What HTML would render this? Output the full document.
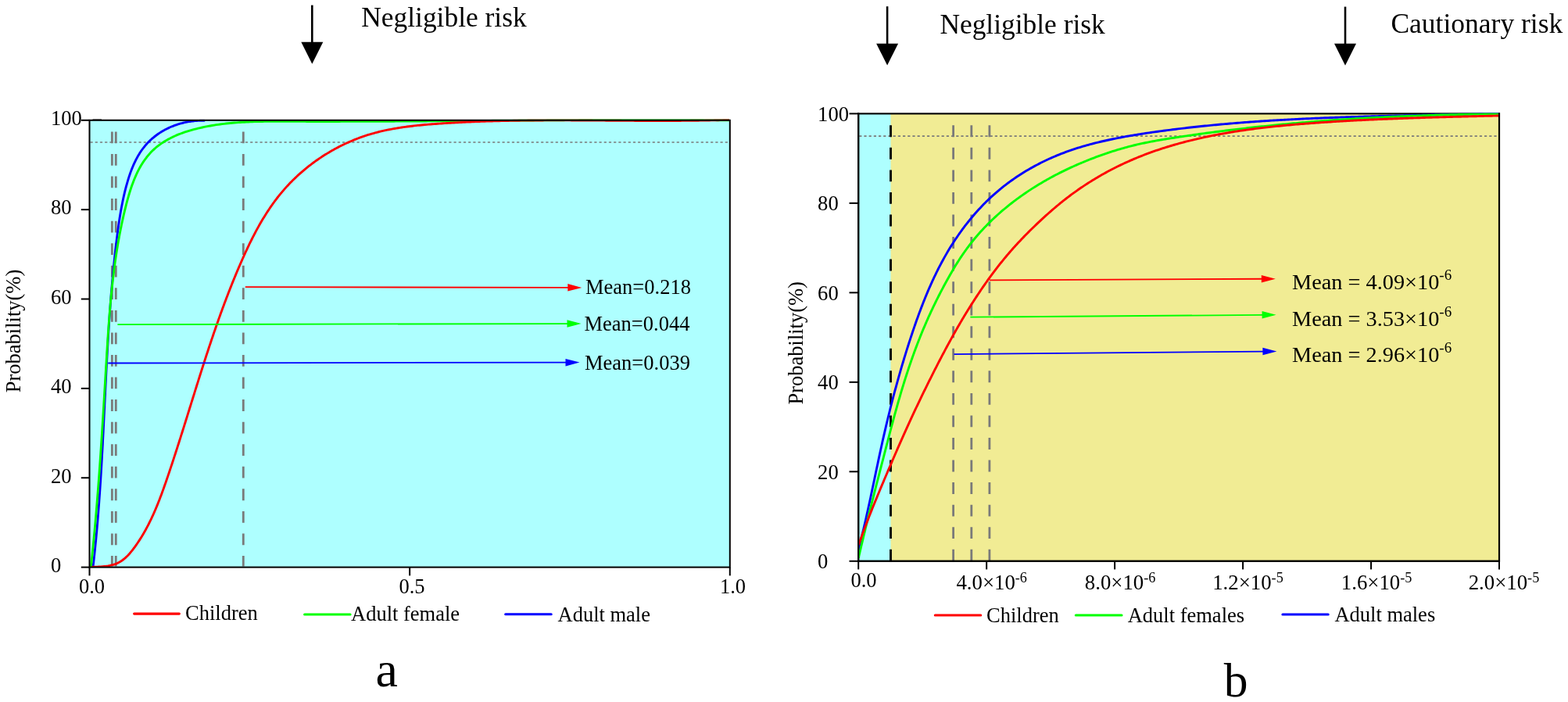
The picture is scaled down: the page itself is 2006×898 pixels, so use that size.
<!DOCTYPE html><html><head><meta charset="utf-8"><title>Risk probability curves</title>
<style>html,body{margin:0;padding:0;background:#fff;overflow:hidden;width:2006px;height:898px;}svg{display:block;} text{font-family:'Liberation Serif', 'Times New Roman', serif;fill:#000;}</style></head><body>
<svg width="2006" height="898" viewBox="0 0 2006 898">
<rect x="0" y="0" width="2006" height="898" fill="#fff"/>
<defs><clipPath id="cl"><rect x="114.5" y="152.5" width="819.3" height="573.0999999999999"/></clipPath><clipPath id="cr"><rect x="1098.2" y="144.3" width="819.8" height="573.5"/></clipPath></defs>
<rect x="114.5" y="153.8" width="819.3" height="571.8" fill="#aeffff"/>
<line x1="115.5" y1="182" x2="932.8" y2="182" stroke="#7a7a7a" stroke-width="1.6" stroke-dasharray="3.2 3"/>
<line x1="143.35" y1="168.4" x2="143.35" y2="724.5" stroke="#7a7a7a" stroke-width="2.8" stroke-dasharray="14.8 13.76" stroke-dashoffset="0"/>
<line x1="148.25" y1="168.4" x2="148.25" y2="724.5" stroke="#7a7a7a" stroke-width="2.8" stroke-dasharray="14.8 13.76" stroke-dashoffset="0"/>
<line x1="311.3" y1="168.4" x2="311.3" y2="724.5" stroke="#7a7a7a" stroke-width="2.8" stroke-dasharray="14.8 13.76" stroke-dashoffset="0"/>
<g clip-path="url(#cl)">
<path d="M118.00,725.20 L119.14,724.15 L119.29,722.89 L119.43,721.63 L119.58,720.37 L119.72,719.11 L119.86,717.85 L120.01,716.59 L120.15,715.33 L120.29,714.07 L120.43,712.81 L120.56,711.55 L120.70,710.29 L120.84,709.03 L120.97,707.77 L121.10,706.51 L121.24,705.25 L121.37,703.99 L121.50,702.73 L121.63,701.47 L121.76,700.21 L121.89,698.95 L122.01,697.69 L122.14,696.43 L122.27,695.17 L122.39,693.91 L122.51,692.64 L122.64,691.38 L122.76,690.12 L122.88,688.86 L123.00,687.60 L123.12,686.34 L123.24,685.08 L123.35,683.81 L123.47,682.55 L123.59,681.29 L123.70,680.03 L123.81,678.77 L123.93,677.50 L124.04,676.24 L124.15,674.98 L124.26,673.72 L124.37,672.45 L124.48,671.19 L124.59,669.93 L124.70,668.66 L124.80,667.40 L124.91,666.14 L125.01,664.88 L125.12,663.61 L125.22,662.35 L125.33,661.09 L125.43,659.82 L125.53,658.56 L125.63,657.29 L125.73,656.03 L125.83,654.77 L125.93,653.50 L126.03,652.24 L126.13,650.98 L126.22,649.71 L126.32,648.45 L126.41,647.18 L126.51,645.92 L126.60,644.66 L126.70,643.39 L126.79,642.13 L126.88,640.86 L126.97,639.60 L127.06,638.33 L127.15,637.07 L127.24,635.80 L127.33,634.54 L127.42,633.27 L127.51,632.01 L127.59,630.74 L127.68,629.48 L127.77,628.21 L127.85,626.95 L127.94,625.68 L128.02,624.42 L128.11,623.15 L128.19,621.89 L128.27,620.62 L128.36,619.36 L128.44,618.09 L128.52,616.83 L128.60,615.56 L128.68,614.29 L128.76,613.03 L128.84,611.76 L128.92,610.50 L129.00,609.23 L129.07,607.97 L129.15,606.70 L129.23,605.43 L129.30,604.17 L129.38,602.90 L129.46,601.64 L129.53,600.37 L129.61,599.10 L129.68,597.84 L129.76,596.57 L129.83,595.30 L129.90,594.04 L129.97,592.77 L130.05,591.50 L130.12,590.24 L130.19,588.97 L130.26,587.70 L130.33,586.44 L130.40,585.17 L130.47,583.90 L130.54,582.64 L130.61,581.37 L130.68,580.10 L130.75,578.84 L130.82,577.57 L130.89,576.30 L130.96,575.04 L131.03,573.77 L131.09,572.50 L131.16,571.24 L131.23,569.97 L131.29,568.70 L131.36,567.43 L131.43,566.17 L131.49,564.90 L131.56,563.63 L131.62,562.37 L131.69,561.10 L131.75,559.83 L131.82,558.56 L131.88,557.30 L131.95,556.03 L132.01,554.76 L132.08,553.50 L132.14,552.23 L132.20,550.96 L132.27,549.69 L132.33,548.43 L132.39,547.16 L132.46,545.89 L132.52,544.62 L132.58,543.36 L132.65,542.09 L132.71,540.82 L132.77,539.55 L132.83,538.29 L132.90,537.02 L132.96,535.75 L133.02,534.48 L133.08,533.22 L133.14,531.95 L133.21,530.68 L133.27,529.41 L133.33,528.15 L133.39,526.88 L133.45,525.61 L133.51,524.34 L133.58,523.08 L133.64,521.81 L133.70,520.54 L133.76,519.27 L133.82,518.00 L133.88,516.74 L133.94,515.47 L134.01,514.20 L134.07,512.93 L134.13,511.67 L134.19,510.40 L134.25,509.13 L134.31,507.86 L134.38,506.60 L134.44,505.33 L134.50,504.06 L134.56,502.79 L134.62,501.53 L134.69,500.26 L134.75,498.99 L134.81,497.72 L134.87,496.46 L134.94,495.19 L135.00,493.92 L135.06,492.65 L135.12,491.39 L135.19,490.12 L135.25,488.85 L135.31,487.58 L135.38,486.32 L135.44,485.05 L135.51,483.78 L135.57,482.51 L135.63,481.25 L135.70,479.98 L135.76,478.71 L135.83,477.45 L135.89,476.18 L135.96,474.91 L136.02,473.64 L136.09,472.38 L136.16,471.11 L136.22,469.84 L136.29,468.58 L136.36,467.31 L136.42,466.04 L136.49,464.77 L136.56,463.51 L136.63,462.24 L136.69,460.97 L136.76,459.71 L136.83,458.44 L136.90,457.17 L136.97,455.91 L137.04,454.64 L137.11,453.37 L137.18,452.11 L137.25,450.84 L137.32,449.57 L137.39,448.31 L137.47,447.04 L137.54,445.77 L137.61,444.51 L137.68,443.24 L137.76,441.97 L137.83,440.71 L137.90,439.44 L137.98,438.18 L138.05,436.91 L138.13,435.64 L138.21,434.38 L138.28,433.11 L138.36,431.84 L138.44,430.58 L138.51,429.31 L138.59,428.05 L138.67,426.78 L138.75,425.51 L138.83,424.25 L138.91,422.98 L138.99,421.72 L139.07,420.45 L139.15,419.19 L139.23,417.92 L139.32,416.66 L139.40,415.39 L139.48,414.12 L139.57,412.86 L139.65,411.59 L139.74,410.33 L139.82,409.06 L139.91,407.80 L139.99,406.53 L140.08,405.27 L140.17,404.00 L140.26,402.74 L140.35,401.47 L140.44,400.21 L140.53,398.95 L140.62,397.68 L140.71,396.42 L140.80,395.15 L140.90,393.89 L140.99,392.62 L141.08,391.36 L141.18,390.09 L141.28,388.83 L141.37,387.57 L141.47,386.30 L141.57,385.04 L141.66,383.77 L141.76,382.51 L141.86,381.25 L141.96,379.98 L142.06,378.72 L142.17,377.46 L142.27,376.19 L142.37,374.93 L142.48,373.67 L142.58,372.40 L142.69,371.14 L142.79,369.88 L142.90,368.61 L143.01,367.35 L143.12,366.09 L143.23,364.83 L143.34,363.56 L143.45,362.30 L143.56,361.04 L143.67,359.78 L143.78,358.51 L143.90,357.25 L144.01,355.99 L144.13,354.73 L144.25,353.47 L144.36,352.20 L144.48,350.94 L144.60,349.68 L144.72,348.42 L144.84,347.16 L144.97,345.90 L145.09,344.63 L145.21,343.37 L145.34,342.11 L145.46,340.85 L145.59,339.59 L145.72,338.33 L145.85,337.07 L145.97,335.81 L146.10,334.55 L146.24,333.29 L146.37,332.03 L146.50,330.77 L146.64,329.51 L146.77,328.25 L146.91,326.99 L147.04,325.73 L147.18,324.47 L147.32,323.21 L147.46,321.95 L147.60,320.69 L147.74,319.43 L147.89,318.17 L148.03,316.91 L148.18,315.65 L148.32,314.39 L148.47,313.13 L148.62,311.88 L148.77,310.62 L148.92,309.36 L149.07,308.10 L149.22,306.84 L149.38,305.58 L149.53,304.33 L149.69,303.07 L149.85,301.81 L150.01,300.55 L150.17,299.29 L150.33,298.04 L150.49,296.78 L150.66,295.52 L150.83,294.27 L151.00,293.01 L151.17,291.75 L151.35,290.50 L151.52,289.24 L151.70,287.99 L151.88,286.73 L152.07,285.47 L152.25,284.22 L152.44,282.96 L152.63,281.71 L152.83,280.46 L153.02,279.20 L153.22,277.95 L153.42,276.69 L153.63,275.44 L153.84,274.19 L154.05,272.93 L154.27,271.68 L154.48,270.43 L154.71,269.18 L154.93,267.93 L155.16,266.67 L155.39,265.42 L155.63,264.17 L155.87,262.92 L156.11,261.67 L156.36,260.42 L156.61,259.17 L156.87,257.92 L157.13,256.67 L157.39,255.43 L157.66,254.18 L157.93,252.93 L158.21,251.68 L158.49,250.44 L158.78,249.19 L159.07,247.94 L159.36,246.70 L159.66,245.45 L159.97,244.21 L160.28,242.96 L160.60,241.72 L160.92,240.48 L161.24,239.23 L161.57,237.99 L161.91,236.75 L162.25,235.51 L162.60,234.27 L162.96,233.04 L163.32,231.80 L163.69,230.57 L164.06,229.34 L164.44,228.11 L164.83,226.89 L165.23,225.67 L165.63,224.45 L166.05,223.24 L166.47,222.03 L166.90,220.82 L167.33,219.62 L167.78,218.43 L168.23,217.24 L168.70,216.05 L169.17,214.87 L169.65,213.69 L170.14,212.52 L170.64,211.36 L171.16,210.20 L171.68,209.05 L172.21,207.91 L172.75,206.77 L173.31,205.64 L173.87,204.52 L174.45,203.41 L175.03,202.30 L175.63,201.21 L176.24,200.12 L176.86,199.04 L177.50,197.97 L178.14,196.90 L178.80,195.85 L179.48,194.81 L180.16,193.78 L180.86,192.75 L181.57,191.74 L182.30,190.74 L183.04,189.75 L183.79,188.77 L184.56,187.80 L185.34,186.85 L186.13,185.90 L186.94,184.97 L187.77,184.05 L188.61,183.14 L189.46,182.24 L190.33,181.36 L191.21,180.49 L192.10,179.63 L193.01,178.79 L193.93,177.95 L194.87,177.13 L195.81,176.33 L196.77,175.53 L197.74,174.75 L198.73,173.99 L199.72,173.23 L200.73,172.49 L201.75,171.76 L202.78,171.05 L203.82,170.35 L204.87,169.66 L205.93,168.99 L207.00,168.33 L208.08,167.69 L209.18,167.06 L210.28,166.44 L211.39,165.84 L212.51,165.25 L213.64,164.68 L214.78,164.12 L215.93,163.58 L217.08,163.05 L218.25,162.54 L219.42,162.04 L220.60,161.55 L221.79,161.08 L222.99,160.63 L224.19,160.19 L225.40,159.77 L226.62,159.36 L227.85,158.97 L229.08,158.59 L230.31,158.23 L231.56,157.88 L232.81,157.55 L234.06,157.23 L235.32,156.93 L236.58,156.65 L237.85,156.38 L239.12,156.13 L240.40,155.89 L241.68,155.67 L242.96,155.47 L244.25,155.28 L245.54,155.10 L246.83,154.95 L248.13,154.81 L249.43,154.68 L250.72,154.57 L252.03,154.48 L253.33,154.40 L254.63,154.34 L255.93,154.29 L257.24,154.26 L258.54,154.25 L259.85,154.25 L261.15,154.27 L262.00,153.80" fill="none" stroke="#0000ff" stroke-width="2.9" stroke-linejoin="round"/>
<path d="M116.00,725.20 L116.63,722.60 L116.90,720.04 L117.18,717.48 L117.45,714.92 L117.72,712.36 L117.98,709.80 L118.24,707.24 L118.51,704.68 L118.76,702.11 L119.02,699.55 L119.27,696.98 L119.53,694.42 L119.77,691.85 L120.02,689.28 L120.27,686.71 L120.51,684.15 L120.75,681.58 L120.99,679.01 L121.22,676.44 L121.46,673.87 L121.69,671.29 L121.92,668.72 L122.14,666.15 L122.37,663.58 L122.59,661.00 L122.81,658.43 L123.03,655.85 L123.25,653.28 L123.47,650.70 L123.68,648.13 L123.89,645.55 L124.10,642.97 L124.31,640.40 L124.52,637.82 L124.73,635.24 L124.93,632.66 L125.13,630.08 L125.33,627.50 L125.53,624.92 L125.73,622.34 L125.92,619.76 L126.12,617.18 L126.31,614.60 L126.50,612.02 L126.69,609.44 L126.88,606.85 L127.07,604.27 L127.25,601.69 L127.44,599.11 L127.62,596.52 L127.80,593.94 L127.98,591.36 L128.16,588.77 L128.34,586.19 L128.52,583.61 L128.70,581.02 L128.87,578.44 L129.04,575.86 L129.22,573.27 L129.39,570.69 L129.56,568.10 L129.73,565.52 L129.90,562.93 L130.07,560.35 L130.24,557.76 L130.40,555.18 L130.57,552.59 L130.73,550.01 L130.90,547.43 L131.06,544.84 L131.23,542.26 L131.39,539.67 L131.55,537.09 L131.71,534.50 L131.87,531.92 L132.03,529.34 L132.19,526.75 L132.35,524.17 L132.51,521.58 L132.67,519.00 L132.82,516.42 L132.98,513.83 L133.14,511.25 L133.30,508.67 L133.45,506.09 L133.61,503.50 L133.76,500.92 L133.92,498.34 L134.08,495.76 L134.23,493.18 L134.39,490.60 L134.54,488.02 L134.70,485.44 L134.85,482.86 L135.01,480.28 L135.16,477.70 L135.32,475.12 L135.47,472.54 L135.63,469.96 L135.78,467.38 L135.94,464.81 L136.10,462.23 L136.25,459.65 L136.41,457.08 L136.56,454.50 L136.72,451.93 L136.88,449.35 L137.04,446.78 L137.20,444.21 L137.36,441.63 L137.53,439.06 L137.69,436.49 L137.86,433.92 L138.03,431.34 L138.20,428.77 L138.37,426.20 L138.55,423.63 L138.73,421.06 L138.91,418.49 L139.09,415.92 L139.28,413.35 L139.47,410.78 L139.66,408.22 L139.86,405.65 L140.06,403.08 L140.26,400.51 L140.47,397.95 L140.68,395.38 L140.90,392.81 L141.12,390.25 L141.35,387.68 L141.58,385.12 L141.82,382.55 L142.06,379.99 L142.30,377.42 L142.55,374.86 L142.81,372.29 L143.07,369.73 L143.34,367.17 L143.62,364.60 L143.90,362.04 L144.19,359.48 L144.48,356.91 L144.78,354.35 L145.09,351.79 L145.40,349.23 L145.72,346.67 L146.05,344.11 L146.39,341.54 L146.73,338.98 L147.08,336.42 L147.44,333.86 L147.81,331.30 L148.18,328.74 L148.57,326.18 L148.96,323.62 L149.36,321.06 L149.77,318.50 L150.19,315.94 L150.62,313.38 L151.06,310.83 L151.50,308.27 L151.96,305.71 L152.43,303.15 L152.90,300.59 L153.39,298.03 L153.89,295.48 L154.39,292.92 L154.91,290.36 L155.44,287.80 L155.98,285.24 L156.53,282.69 L157.09,280.13 L157.66,277.57 L158.25,275.01 L158.85,272.46 L159.45,269.90 L160.07,267.34 L160.71,264.79 L161.35,262.23 L162.01,259.68 L162.69,257.13 L163.38,254.58 L164.09,252.05 L164.83,249.52 L165.58,247.00 L166.36,244.50 L167.17,242.01 L167.99,239.53 L168.85,237.07 L169.74,234.63 L170.66,232.21 L171.61,229.81 L172.59,227.44 L173.61,225.08 L174.66,222.76 L175.75,220.46 L176.89,218.19 L178.06,215.95 L179.27,213.75 L180.53,211.57 L181.84,209.44 L183.19,207.34 L184.59,205.28 L186.04,203.26 L187.54,201.28 L189.09,199.34 L190.69,197.45 L192.36,195.61 L194.08,193.81 L195.85,192.06 L197.69,190.37 L199.59,188.72 L201.54,187.13 L203.55,185.59 L205.62,184.10 L207.73,182.67 L209.89,181.28 L212.10,179.94 L214.34,178.65 L216.63,177.42 L218.95,176.22 L221.30,175.08 L223.68,173.99 L226.09,172.94 L228.52,171.94 L230.97,170.99 L233.45,170.08 L235.94,169.21 L238.44,168.38 L240.95,167.59 L243.48,166.84 L246.01,166.12 L248.55,165.43 L251.09,164.78 L253.64,164.15 L256.18,163.55 L258.73,162.98 L261.28,162.43 L263.83,161.91 L266.39,161.42 L268.94,160.95 L271.50,160.51 L274.06,160.09 L276.62,159.69 L279.18,159.31 L281.74,158.96 L284.30,158.63 L286.87,158.32 L289.44,158.03 L292.00,157.75 L294.57,157.50 L297.14,157.26 L299.72,157.05 L302.29,156.84 L304.86,156.66 L307.44,156.49 L310.01,156.33 L312.59,156.19 L315.17,156.06 L317.75,155.95 L320.33,155.84 L322.91,155.75 L325.49,155.67 L328.07,155.60 L330.65,155.54 L333.23,155.49 L335.82,155.45 L338.40,155.41 L340.99,155.38 L343.57,155.36 L346.16,155.35 L348.74,155.34 L351.33,155.33 L353.92,155.33 L356.50,155.33 L359.09,155.34 L361.68,155.34 L364.26,155.35 L366.85,155.36 L369.44,155.37 L372.02,155.38 L374.61,155.39 L377.20,155.39 L379.78,155.40 L382.37,155.41 L384.96,155.41 L387.54,155.42 L390.13,155.42 L392.72,155.43 L395.30,155.43 L397.89,155.43 L400.48,155.44 L403.06,155.44 L405.65,155.44 L408.23,155.44 L410.82,155.44 L413.41,155.44 L415.99,155.44 L418.58,155.44 L421.16,155.44 L423.75,155.44 L426.34,155.44 L428.92,155.43 L431.51,155.43 L434.09,155.43 L436.68,155.42 L439.26,155.42 L441.85,155.41 L444.44,155.41 L447.02,155.40 L449.61,155.39 L452.19,155.39 L454.78,155.38 L457.36,155.37 L459.95,155.37 L462.53,155.36 L465.12,155.35 L467.70,155.34 L470.29,155.33 L472.87,155.32 L475.46,155.31 L478.04,155.30 L480.63,155.29 L483.21,155.28 L485.80,155.27 L488.38,155.26 L490.97,155.24 L493.55,155.23 L496.14,155.22 L498.72,155.21 L501.31,155.19 L503.89,155.18 L506.48,155.17 L509.06,155.15 L511.65,155.14 L514.23,155.12 L516.82,155.11 L519.40,155.09 L521.98,155.08 L524.57,155.06 L527.15,155.05 L529.74,155.03 L532.32,155.02 L534.91,155.00 L537.49,154.98 L540.08,154.97 L542.66,154.95 L545.24,154.93 L547.83,154.92 L550.41,154.90 L553.00,154.88 L555.58,154.86 L558.17,154.85 L560.75,154.83 L563.33,154.81 L565.92,154.79 L568.50,154.77 L571.09,154.75 L573.67,154.74 L576.26,154.72 L578.84,154.70 L581.42,154.68 L584.01,154.66 L586.59,154.64 L589.18,154.62 L591.76,154.60 L594.34,154.58 L596.93,154.56 L599.51,154.54 L602.10,154.52 L604.68,154.50 L607.26,154.48 L609.85,154.47 L612.43,154.45 L615.02,154.43 L617.60,154.41 L620.18,154.39 L622.77,154.37 L625.35,154.35 L627.94,154.33 L630.52,154.31 L633.10,154.29 L635.69,154.27 L638.27,154.25 L640.86,154.23 L643.44,154.21 L646.02,154.19 L648.61,154.17 L651.19,154.15 L653.78,154.13 L656.36,154.11 L658.95,154.10 L661.53,154.08 L664.11,154.06 L666.70,154.04 L669.28,154.02 L671.87,154.00 L674.45,153.98 L677.03,153.97 L679.62,153.95 L682.20,153.93 L684.79,153.91 L687.37,153.89 L689.95,153.88 L692.54,153.86 L695.12,153.84 L697.71,153.83 L700.29,153.81 L702.88,153.79 L705.46,153.78 L708.04,153.76 L710.63,153.74 L713.21,153.73 L715.80,153.71 L718.38,153.70 L720.97,153.68 L723.55,153.67 L726.13,153.65 L728.72,153.64 L731.30,153.62 L733.89,153.61 L736.47,153.60 L739.06,153.58 L741.64,153.57 L744.23,153.56 L746.81,153.55 L749.40,153.53 L751.98,153.52 L754.57,153.51 L757.15,153.50 L759.73,153.49 L762.32,153.48 L764.90,153.47 L767.49,153.46 L770.07,153.45 L772.66,153.44 L775.24,153.43 L777.83,153.42 L780.41,153.41 L783.00,153.41 L785.58,153.40 L788.17,153.39 L790.75,153.39 L793.34,153.38 L795.92,153.37 L798.51,153.37 L801.09,153.37 L803.68,153.36 L806.27,153.36 L808.85,153.35 L811.44,153.35 L814.02,153.35 L816.61,153.35 L819.19,153.34 L821.78,153.34 L824.36,153.34 L826.95,153.34 L829.54,153.34 L832.12,153.34 L834.71,153.35 L837.29,153.35 L839.88,153.35 L842.46,153.35 L845.05,153.36 L847.64,153.36 L850.22,153.36 L852.81,153.37 L855.39,153.37 L857.98,153.38 L860.57,153.39 L863.15,153.40 L865.74,153.40 L868.33,153.41 L870.91,153.42 L873.50,153.43 L876.09,153.44 L878.67,153.45 L881.26,153.46 L883.85,153.48 L886.43,153.49 L889.02,153.50 L891.61,153.52 L894.19,153.53 L896.78,153.55 L899.37,153.56 L901.96,153.58 L904.54,153.60 L907.13,153.61 L909.72,153.63 L912.30,153.65 L914.89,153.67 L917.48,153.69 L920.07,153.71 L922.65,153.74 L925.24,153.76 L927.83,153.78 L930.42,153.81 L933.00,153.80" fill="none" stroke="#00ff00" stroke-width="2.9" stroke-linejoin="round"/>
<path d="M117.30,725.50 L119.52,725.27 L121.81,725.19 L124.13,725.11 L126.47,725.00 L128.83,724.87 L131.20,724.70 L133.57,724.48 L135.93,724.21 L138.27,723.87 L140.58,723.45 L142.86,722.94 L145.09,722.33 L147.27,721.62 L149.39,720.79 L151.43,719.84 L153.40,718.76 L155.30,717.56 L157.14,716.26 L158.91,714.86 L160.63,713.37 L162.29,711.79 L163.90,710.15 L165.47,708.44 L166.99,706.68 L168.47,704.88 L169.92,703.04 L171.33,701.17 L172.72,699.28 L174.07,697.38 L175.41,695.46 L176.72,693.54 L178.00,691.60 L179.26,689.64 L180.49,687.68 L181.71,685.71 L182.90,683.72 L184.07,681.72 L185.21,679.71 L186.34,677.69 L187.45,675.66 L188.53,673.63 L189.60,671.58 L190.65,669.52 L191.68,667.45 L192.70,665.38 L193.69,663.30 L194.67,661.20 L195.64,659.11 L196.59,657.00 L197.52,654.88 L198.44,652.76 L199.35,650.64 L200.24,648.50 L201.12,646.36 L201.99,644.22 L202.85,642.07 L203.69,639.91 L204.53,637.75 L205.35,635.58 L206.17,633.41 L206.98,631.24 L207.78,629.06 L208.57,626.88 L209.35,624.70 L210.13,622.51 L210.90,620.32 L211.67,618.13 L212.43,615.94 L213.18,613.74 L213.94,611.54 L214.69,609.35 L215.43,607.15 L216.18,604.95 L216.92,602.75 L217.65,600.55 L218.39,598.35 L219.12,596.15 L219.85,593.94 L220.58,591.74 L221.31,589.54 L222.03,587.33 L222.75,585.13 L223.47,582.92 L224.19,580.72 L224.90,578.51 L225.62,576.30 L226.33,574.10 L227.04,571.89 L227.75,569.68 L228.45,567.47 L229.16,565.26 L229.86,563.05 L230.56,560.84 L231.27,558.64 L231.96,556.42 L232.66,554.21 L233.36,552.00 L234.06,549.79 L234.75,547.58 L235.45,545.37 L236.14,543.16 L236.83,540.95 L237.52,538.74 L238.22,536.52 L238.91,534.31 L239.60,532.10 L240.29,529.89 L240.98,527.68 L241.67,525.47 L242.36,523.25 L243.04,521.04 L243.73,518.83 L244.42,516.62 L245.11,514.41 L245.80,512.20 L246.49,509.99 L247.18,507.77 L247.87,505.56 L248.56,503.35 L249.25,501.14 L249.94,498.93 L250.63,496.72 L251.32,494.51 L252.02,492.30 L252.71,490.10 L253.41,487.89 L254.10,485.68 L254.80,483.47 L255.50,481.26 L256.20,479.06 L256.90,476.85 L257.60,474.65 L258.30,472.44 L259.01,470.24 L259.71,468.03 L260.42,465.83 L261.13,463.63 L261.84,461.42 L262.55,459.22 L263.27,457.02 L263.99,454.82 L264.70,452.62 L265.43,450.42 L266.15,448.22 L266.87,446.03 L267.60,443.83 L268.33,441.63 L269.06,439.44 L269.80,437.25 L270.53,435.05 L271.27,432.86 L272.02,430.67 L272.76,428.48 L273.51,426.29 L274.26,424.10 L275.02,421.91 L275.77,419.73 L276.53,417.54 L277.30,415.36 L278.06,413.17 L278.83,410.99 L279.61,408.81 L280.38,406.63 L281.16,404.45 L281.95,402.27 L282.73,400.10 L283.52,397.92 L284.32,395.75 L285.12,393.58 L285.92,391.41 L286.73,389.24 L287.54,387.07 L288.35,384.90 L289.17,382.73 L290.00,380.57 L290.83,378.41 L291.66,376.24 L292.49,374.08 L293.34,371.93 L294.18,369.77 L295.03,367.61 L295.89,365.46 L296.75,363.31 L297.61,361.16 L298.48,359.01 L299.36,356.86 L300.24,354.71 L301.13,352.57 L302.02,350.43 L302.91,348.28 L303.81,346.15 L304.72,344.01 L305.63,341.87 L306.55,339.74 L307.48,337.61 L308.41,335.48 L309.34,333.35 L310.28,331.22 L311.23,329.10 L312.19,326.98 L313.15,324.86 L314.12,322.75 L315.10,320.64 L316.08,318.53 L317.07,316.43 L318.07,314.33 L319.08,312.24 L320.10,310.15 L321.13,308.07 L322.17,305.99 L323.22,303.92 L324.28,301.85 L325.34,299.79 L326.42,297.74 L327.51,295.69 L328.61,293.66 L329.73,291.63 L330.85,289.60 L331.99,287.59 L333.14,285.58 L334.30,283.58 L335.47,281.59 L336.66,279.61 L337.86,277.64 L339.07,275.68 L340.30,273.73 L341.54,271.79 L342.80,269.86 L344.07,267.94 L345.36,266.03 L346.66,264.13 L347.98,262.24 L349.32,260.37 L350.67,258.51 L352.03,256.66 L353.42,254.82 L354.82,253.00 L356.23,251.19 L357.67,249.39 L359.12,247.60 L360.60,245.83 L362.09,244.08 L363.59,242.34 L365.12,240.61 L366.67,238.90 L368.23,237.20 L369.81,235.52 L371.41,233.85 L373.03,232.20 L374.66,230.57 L376.31,228.95 L377.98,227.34 L379.66,225.76 L381.36,224.19 L383.08,222.63 L384.81,221.09 L386.56,219.57 L388.32,218.06 L390.10,216.57 L391.89,215.10 L393.70,213.65 L395.52,212.21 L397.36,210.79 L399.21,209.39 L401.07,208.00 L402.95,206.64 L404.84,205.29 L406.75,203.96 L408.66,202.65 L410.59,201.35 L412.54,200.08 L414.49,198.82 L416.46,197.58 L418.44,196.36 L420.43,195.16 L422.43,193.98 L424.44,192.82 L426.46,191.68 L428.50,190.56 L430.54,189.46 L432.60,188.37 L434.66,187.31 L436.73,186.27 L438.82,185.25 L440.91,184.25 L443.01,183.27 L445.13,182.31 L447.25,181.37 L449.37,180.46 L451.51,179.56 L453.65,178.69 L455.81,177.84 L457.97,177.00 L460.13,176.20 L462.31,175.41 L464.49,174.64 L466.68,173.90 L468.87,173.18 L471.07,172.48 L473.28,171.81 L475.49,171.16 L477.70,170.53 L479.93,169.92 L482.16,169.33 L484.39,168.76 L486.63,168.21 L488.87,167.68 L491.12,167.17 L493.37,166.68 L495.63,166.20 L497.89,165.75 L500.15,165.31 L502.42,164.89 L504.70,164.48 L506.97,164.09 L509.25,163.71 L511.54,163.35 L513.82,163.00 L516.11,162.67 L518.41,162.35 L520.70,162.04 L523.00,161.74 L525.30,161.46 L527.60,161.19 L529.91,160.92 L532.21,160.67 L534.52,160.43 L536.83,160.20 L539.14,159.97 L541.46,159.76 L543.77,159.55 L546.09,159.35 L548.40,159.16 L550.72,158.97 L553.04,158.79 L555.36,158.62 L557.68,158.45 L559.99,158.28 L562.31,158.12 L564.63,157.97 L566.95,157.81 L569.27,157.66 L571.59,157.52 L573.90,157.37 L576.22,157.24 L578.54,157.10 L580.86,156.97 L583.18,156.84 L585.49,156.71 L587.81,156.59 L590.13,156.47 L592.44,156.36 L594.76,156.25 L597.08,156.14 L599.40,156.03 L601.71,155.93 L604.03,155.83 L606.35,155.74 L608.66,155.64 L610.98,155.55 L613.30,155.47 L615.61,155.38 L617.93,155.30 L620.24,155.22 L622.56,155.14 L624.88,155.07 L627.19,155.00 L629.51,154.93 L631.82,154.87 L634.14,154.80 L636.46,154.74 L638.77,154.69 L641.09,154.63 L643.40,154.58 L645.72,154.53 L648.03,154.48 L650.35,154.43 L652.67,154.39 L654.98,154.35 L657.30,154.31 L659.61,154.27 L661.93,154.23 L664.24,154.20 L666.56,154.17 L668.87,154.14 L671.19,154.11 L673.50,154.09 L675.82,154.06 L678.13,154.04 L680.45,154.02 L682.76,154.00 L685.08,153.98 L687.39,153.97 L689.71,153.95 L692.02,153.94 L694.34,153.93 L696.65,153.92 L698.97,153.91 L701.28,153.91 L703.59,153.90 L705.91,153.90 L708.22,153.90 L710.54,153.89 L712.85,153.89 L715.17,153.90 L717.48,153.90 L719.80,153.90 L722.11,153.90 L724.43,153.91 L726.74,153.92 L729.06,153.92 L731.37,153.93 L733.69,153.94 L736.00,153.95 L738.32,153.96 L740.63,153.97 L742.95,153.98 L745.26,153.99 L747.58,154.01 L749.89,154.02 L752.21,154.03 L754.52,154.05 L756.84,154.06 L759.15,154.08 L761.47,154.09 L763.78,154.11 L766.10,154.12 L768.41,154.14 L770.73,154.16 L773.04,154.17 L775.36,154.19 L777.67,154.20 L779.99,154.22 L782.30,154.24 L784.62,154.25 L786.94,154.27 L789.25,154.29 L791.57,154.30 L793.88,154.32 L796.20,154.33 L798.52,154.35 L800.83,154.36 L803.15,154.38 L805.46,154.39 L807.78,154.40 L810.10,154.42 L812.41,154.43 L814.73,154.44 L817.05,154.45 L819.36,154.46 L821.68,154.47 L824.00,154.48 L826.31,154.49 L828.63,154.50 L830.95,154.50 L833.26,154.51 L835.58,154.51 L837.90,154.52 L840.22,154.52 L842.53,154.52 L844.85,154.52 L847.17,154.52 L849.49,154.52 L851.81,154.52 L854.12,154.51 L856.44,154.51 L858.76,154.50 L861.08,154.49 L863.40,154.48 L865.72,154.47 L868.04,154.45 L870.35,154.44 L872.67,154.42 L874.99,154.41 L877.31,154.39 L879.63,154.36 L881.95,154.34 L884.27,154.32 L886.59,154.29 L888.91,154.26 L891.23,154.23 L893.55,154.20 L895.87,154.16 L898.19,154.13 L900.51,154.09 L902.83,154.05 L905.15,154.00 L907.48,153.96 L909.80,153.91 L912.12,153.86 L914.44,153.81 L916.76,153.76 L919.08,153.70 L921.41,153.64 L923.73,153.58 L926.05,153.51 L928.37,153.45 L930.70,153.38 L933.00,153.40" fill="none" stroke="#ff0000" stroke-width="2.9" stroke-linejoin="round"/>
</g>
<line x1="313.8" y1="367.2" x2="728.30" y2="367.87" stroke="#ff0000" stroke-width="1.8"/><polygon points="744.30,367.90 726.29,372.62 726.31,363.12" fill="#ff0000"/>
<line x1="150.4" y1="415.2" x2="727.50" y2="414.03" stroke="#00ff00" stroke-width="1.8"/><polygon points="743.50,414.00 725.51,418.79 725.49,409.29" fill="#00ff00"/>
<line x1="138.2" y1="464.5" x2="725.50" y2="463.62" stroke="#0000ff" stroke-width="1.8"/><polygon points="741.50,463.60 723.51,468.38 723.49,458.88" fill="#0000ff"/>
<rect x="114.5" y="153.8" width="819.3" height="571.8" fill="none" stroke="#000" stroke-width="2"/>
<line x1="118.5" y1="153.3" x2="130" y2="153.3" stroke="#000" stroke-width="1.6"/>
<line x1="103.8" y1="725.60" x2="114.5" y2="725.60" stroke="#000" stroke-width="2"/>
<line x1="103.8" y1="611.24" x2="114.5" y2="611.24" stroke="#000" stroke-width="2"/>
<line x1="103.8" y1="496.88" x2="114.5" y2="496.88" stroke="#000" stroke-width="2"/>
<line x1="103.8" y1="382.52" x2="114.5" y2="382.52" stroke="#000" stroke-width="2"/>
<line x1="103.8" y1="268.16" x2="114.5" y2="268.16" stroke="#000" stroke-width="2"/>
<line x1="103.8" y1="153.80" x2="114.5" y2="153.80" stroke="#000" stroke-width="2"/>
<line x1="114.50" y1="725.6" x2="114.50" y2="736.4" stroke="#000" stroke-width="2"/>
<line x1="524.15" y1="725.6" x2="524.15" y2="736.4" stroke="#000" stroke-width="2"/>
<line x1="933.80" y1="725.6" x2="933.80" y2="736.4" stroke="#000" stroke-width="2"/>
<text x="65" y="731.90" font-size="26.6">0</text>
<text x="65" y="617.54" font-size="26.6">20</text>
<text x="65" y="503.18" font-size="26.6">40</text>
<text x="65" y="388.82" font-size="26.6">60</text>
<text x="65" y="274.46" font-size="26.6">80</text>
<text x="65" y="160.10" font-size="26.6">100</text>
<text x="117.5" y="758.5" font-size="26.5" text-anchor="middle">0.0</text>
<text x="527" y="758.5" font-size="26.5" text-anchor="middle">0.5</text>
<text x="937.5" y="758.5" font-size="26.5" text-anchor="middle">1.0</text>
<text transform="translate(26,423.5) rotate(-90)" font-size="26.5" text-anchor="middle">Probability(%)</text>
<text x="749" y="376.4" font-size="26.5">Mean=0.218</text>
<text x="747.5" y="423" font-size="26.5">Mean=0.044</text>
<text x="748" y="472.8" font-size="26.5">Mean=0.039</text>
<line x1="171.6" y1="785.1" x2="229.4" y2="785.1" stroke="#ff0000" stroke-width="3.1" stroke-linecap="round"/>
<text x="237" y="793.2" font-size="26.5">Children</text>
<line x1="389.6" y1="786" x2="448.1" y2="786" stroke="#00ff00" stroke-width="3.1" stroke-linecap="round"/>
<text x="449" y="794.1" font-size="26.5">Adult female</text>
<line x1="646.7" y1="785.7" x2="705.2" y2="785.7" stroke="#0000ff" stroke-width="3.1" stroke-linecap="round"/>
<text x="713.5" y="794.5" font-size="26.5">Adult male</text>
<line x1="399.3" y1="6.6" x2="399.3" y2="54.8" stroke="#000" stroke-width="2.6"/><polygon points="385.3,53.8 413.3,53.8 399.3,81.8" fill="#000"/>
<text x="462.3" y="34" font-size="35.4">Negligible risk</text>
<text x="480.6" y="878.4" font-size="64">a</text>
<rect x="1098.2" y="145.4" width="819.8" height="572.4" fill="#f1ec94"/>
<rect x="1098.2" y="145.4" width="41.299999999999955" height="572.4" fill="#aeffff"/>
<line x1="1099.2" y1="174.1" x2="1917.0" y2="174.1" stroke="#7a7a7a" stroke-width="1.6" stroke-dasharray="3.2 3"/>
<line x1="1219.6" y1="160.3" x2="1219.6" y2="717" stroke="#7a7a7a" stroke-width="2.8" stroke-dasharray="14.9 13.65" stroke-dashoffset="0"/>
<line x1="1242.8" y1="160.3" x2="1242.8" y2="717" stroke="#7a7a7a" stroke-width="2.8" stroke-dasharray="14.9 13.65" stroke-dashoffset="0"/>
<line x1="1265.9" y1="160.3" x2="1265.9" y2="717" stroke="#7a7a7a" stroke-width="2.8" stroke-dasharray="14.9 13.65" stroke-dashoffset="0"/>
<line x1="1139.5" y1="160.3" x2="1139.5" y2="717" stroke="#000" stroke-width="2.9" stroke-dasharray="14.9 13.65" stroke-dashoffset="0"/>
<rect x="1098.2" y="145.4" width="819.8" height="572.4" fill="none" stroke="#000" stroke-width="2.1"/>
<g clip-path="url(#cr)">
<path d="M1098.50,704.00 L1098.62,701.66 L1099.20,699.40 L1099.77,697.15 L1100.34,694.89 L1100.91,692.64 L1101.47,690.38 L1102.03,688.12 L1102.58,685.86 L1103.13,683.60 L1103.67,681.33 L1104.21,679.07 L1104.74,676.81 L1105.27,674.54 L1105.80,672.28 L1106.32,670.01 L1106.84,667.74 L1107.36,665.47 L1107.87,663.20 L1108.39,660.93 L1108.89,658.66 L1109.40,656.39 L1109.90,654.12 L1110.40,651.85 L1110.90,649.58 L1111.39,647.30 L1111.89,645.03 L1112.38,642.76 L1112.87,640.48 L1113.35,638.21 L1113.84,635.93 L1114.32,633.66 L1114.81,631.38 L1115.29,629.11 L1115.77,626.83 L1116.25,624.55 L1116.73,622.28 L1117.21,620.00 L1117.69,617.72 L1118.17,615.45 L1118.64,613.17 L1119.12,610.89 L1119.60,608.62 L1120.08,606.34 L1120.55,604.07 L1121.03,601.79 L1121.51,599.51 L1121.99,597.24 L1122.47,594.96 L1122.96,592.69 L1123.44,590.41 L1123.92,588.14 L1124.41,585.87 L1124.89,583.59 L1125.38,581.32 L1125.87,579.05 L1126.37,576.78 L1126.86,574.51 L1127.36,572.23 L1127.86,569.96 L1128.36,567.69 L1128.86,565.43 L1129.37,563.16 L1129.88,560.89 L1130.39,558.62 L1130.91,556.36 L1131.43,554.09 L1131.95,551.83 L1132.47,549.57 L1133.00,547.30 L1133.53,545.04 L1134.07,542.78 L1134.61,540.52 L1135.15,538.26 L1135.69,536.01 L1136.24,533.75 L1136.79,531.49 L1137.35,529.24 L1137.90,526.98 L1138.46,524.73 L1139.03,522.47 L1139.60,520.22 L1140.17,517.97 L1140.74,515.72 L1141.32,513.47 L1141.91,511.22 L1142.49,508.98 L1143.08,506.73 L1143.67,504.48 L1144.27,502.24 L1144.87,499.99 L1145.47,497.75 L1146.08,495.51 L1146.69,493.27 L1147.31,491.03 L1147.93,488.79 L1148.55,486.55 L1149.18,484.31 L1149.81,482.07 L1150.44,479.84 L1151.08,477.60 L1151.73,475.37 L1152.37,473.14 L1153.02,470.90 L1153.68,468.67 L1154.34,466.44 L1155.00,464.22 L1155.67,461.99 L1156.34,459.76 L1157.01,457.53 L1157.69,455.31 L1158.38,453.09 L1159.06,450.86 L1159.76,448.64 L1160.45,446.42 L1161.15,444.20 L1161.86,441.98 L1162.57,439.76 L1163.28,437.55 L1164.00,435.33 L1164.72,433.12 L1165.45,430.90 L1166.18,428.69 L1166.92,426.48 L1167.66,424.27 L1168.41,422.06 L1169.16,419.85 L1169.92,417.65 L1170.68,415.44 L1171.45,413.24 L1172.22,411.04 L1173.00,408.84 L1173.79,406.65 L1174.58,404.46 L1175.38,402.27 L1176.19,400.08 L1177.00,397.90 L1177.82,395.71 L1178.65,393.53 L1179.49,391.36 L1180.33,389.19 L1181.18,387.02 L1182.04,384.85 L1182.91,382.69 L1183.78,380.53 L1184.67,378.38 L1185.56,376.23 L1186.46,374.08 L1187.37,371.94 L1188.29,369.80 L1189.22,367.67 L1190.16,365.54 L1191.11,363.41 L1192.06,361.29 L1193.03,359.18 L1194.01,357.07 L1195.00,354.97 L1196.00,352.87 L1197.01,350.77 L1198.03,348.68 L1199.06,346.60 L1200.10,344.52 L1201.15,342.45 L1202.22,340.39 L1203.30,338.33 L1204.39,336.28 L1205.49,334.23 L1206.60,332.19 L1207.73,330.16 L1208.86,328.13 L1210.02,326.11 L1211.18,324.10 L1212.36,322.09 L1213.55,320.09 L1214.75,318.10 L1215.97,316.11 L1217.20,314.14 L1218.44,312.17 L1219.70,310.21 L1220.97,308.26 L1222.25,306.31 L1223.55,304.38 L1224.86,302.45 L1226.18,300.53 L1227.52,298.63 L1228.87,296.73 L1230.23,294.84 L1231.61,292.96 L1233.00,291.09 L1234.41,289.24 L1235.82,287.39 L1237.25,285.55 L1238.70,283.73 L1240.16,281.92 L1241.63,280.11 L1243.11,278.32 L1244.61,276.55 L1246.12,274.78 L1247.65,273.03 L1249.18,271.28 L1250.74,269.56 L1252.30,267.84 L1253.88,266.14 L1255.47,264.45 L1257.08,262.77 L1258.70,261.11 L1260.33,259.46 L1261.98,257.83 L1263.64,256.21 L1265.31,254.60 L1266.99,253.01 L1268.69,251.44 L1270.41,249.88 L1272.14,248.33 L1273.88,246.81 L1275.63,245.29 L1277.40,243.80 L1279.18,242.31 L1280.97,240.85 L1282.78,239.40 L1284.60,237.97 L1286.43,236.55 L1288.27,235.15 L1290.13,233.76 L1292.00,232.39 L1293.88,231.03 L1295.77,229.70 L1297.67,228.37 L1299.58,227.07 L1301.51,225.77 L1303.44,224.50 L1305.39,223.24 L1307.35,222.00 L1309.31,220.77 L1311.29,219.56 L1313.28,218.36 L1315.28,217.18 L1317.28,216.02 L1319.30,214.87 L1321.33,213.74 L1323.36,212.62 L1325.41,211.52 L1327.46,210.44 L1329.52,209.37 L1331.59,208.32 L1333.67,207.29 L1335.76,206.27 L1337.86,205.26 L1339.96,204.28 L1342.07,203.30 L1344.19,202.35 L1346.31,201.41 L1348.45,200.49 L1350.59,199.58 L1352.73,198.69 L1354.89,197.81 L1357.05,196.96 L1359.21,196.11 L1361.39,195.29 L1363.56,194.48 L1365.75,193.68 L1367.94,192.90 L1370.13,192.14 L1372.33,191.39 L1374.54,190.66 L1376.75,189.94 L1378.97,189.24 L1381.19,188.55 L1383.41,187.87 L1385.64,187.21 L1387.88,186.56 L1390.12,185.92 L1392.36,185.30 L1394.60,184.69 L1396.85,184.09 L1399.11,183.51 L1401.36,182.93 L1403.62,182.37 L1405.89,181.82 L1408.15,181.27 L1410.42,180.74 L1412.69,180.22 L1414.97,179.71 L1417.24,179.21 L1419.52,178.72 L1421.80,178.24 L1424.08,177.76 L1426.36,177.30 L1428.65,176.84 L1430.94,176.40 L1433.22,175.96 L1435.51,175.53 L1437.80,175.10 L1440.10,174.68 L1442.39,174.28 L1444.68,173.87 L1446.98,173.48 L1449.28,173.09 L1451.58,172.70 L1453.87,172.33 L1456.17,171.96 L1458.48,171.59 L1460.78,171.23 L1463.08,170.88 L1465.38,170.53 L1467.69,170.19 L1469.99,169.85 L1472.30,169.51 L1474.60,169.18 L1476.91,168.85 L1479.21,168.53 L1481.52,168.21 L1483.83,167.89 L1486.13,167.58 L1488.44,167.27 L1490.75,166.97 L1493.06,166.66 L1495.37,166.36 L1497.68,166.07 L1499.98,165.78 L1502.29,165.49 L1504.60,165.20 L1506.91,164.92 L1509.22,164.64 L1511.53,164.36 L1513.84,164.09 L1516.15,163.82 L1518.46,163.55 L1520.78,163.29 L1523.09,163.03 L1525.40,162.77 L1527.71,162.52 L1530.02,162.27 L1532.34,162.02 L1534.65,161.77 L1536.96,161.53 L1539.27,161.29 L1541.59,161.06 L1543.90,160.82 L1546.22,160.59 L1548.53,160.36 L1550.84,160.14 L1553.16,159.92 L1555.47,159.70 L1557.79,159.48 L1560.10,159.27 L1562.42,159.06 L1564.73,158.85 L1567.05,158.64 L1569.37,158.44 L1571.68,158.24 L1574.00,158.04 L1576.32,157.85 L1578.63,157.65 L1580.95,157.46 L1583.27,157.27 L1585.58,157.09 L1587.90,156.91 L1590.22,156.73 L1592.54,156.55 L1594.86,156.37 L1597.18,156.20 L1599.49,156.03 L1601.81,155.86 L1604.13,155.70 L1606.45,155.53 L1608.77,155.37 L1611.09,155.21 L1613.41,155.05 L1615.73,154.90 L1618.05,154.75 L1620.37,154.60 L1622.69,154.45 L1625.01,154.30 L1627.33,154.16 L1629.65,154.02 L1631.97,153.88 L1634.29,153.74 L1636.62,153.60 L1638.94,153.47 L1641.26,153.34 L1643.58,153.21 L1645.90,153.08 L1648.22,152.95 L1650.55,152.83 L1652.87,152.71 L1655.19,152.59 L1657.51,152.47 L1659.84,152.35 L1662.16,152.24 L1664.48,152.12 L1666.81,152.01 L1669.13,151.90 L1671.45,151.79 L1673.78,151.69 L1676.10,151.58 L1678.42,151.48 L1680.75,151.37 L1683.07,151.27 L1685.39,151.18 L1687.72,151.08 L1690.04,150.98 L1692.37,150.89 L1694.69,150.80 L1697.02,150.70 L1699.34,150.61 L1701.67,150.52 L1703.99,150.44 L1706.32,150.35 L1708.64,150.27 L1710.97,150.18 L1713.29,150.10 L1715.62,150.02 L1717.94,149.94 L1720.27,149.86 L1722.59,149.78 L1724.92,149.71 L1727.24,149.63 L1729.57,149.56 L1731.90,149.49 L1734.22,149.42 L1736.55,149.34 L1738.87,149.28 L1741.20,149.21 L1743.52,149.14 L1745.85,149.07 L1748.18,149.01 L1750.50,148.94 L1752.83,148.88 L1755.16,148.81 L1757.48,148.75 L1759.81,148.69 L1762.14,148.63 L1764.46,148.57 L1766.79,148.51 L1769.12,148.45 L1771.44,148.40 L1773.77,148.34 L1776.09,148.28 L1778.42,148.23 L1780.75,148.17 L1783.08,148.12 L1785.40,148.06 L1787.73,148.01 L1790.06,147.96 L1792.38,147.90 L1794.71,147.85 L1797.04,147.80 L1799.36,147.75 L1801.69,147.70 L1804.02,147.65 L1806.34,147.60 L1808.67,147.55 L1811.00,147.50 L1813.32,147.45 L1815.65,147.40 L1817.98,147.36 L1820.30,147.31 L1822.63,147.26 L1824.96,147.21 L1827.28,147.17 L1829.61,147.12 L1831.94,147.07 L1834.26,147.03 L1836.59,146.98 L1838.92,146.93 L1841.24,146.89 L1843.57,146.84 L1845.90,146.79 L1848.22,146.75 L1850.55,146.70 L1852.88,146.65 L1855.20,146.60 L1857.53,146.56 L1859.86,146.51 L1862.18,146.46 L1864.51,146.42 L1866.84,146.37 L1869.16,146.32 L1871.49,146.27 L1873.81,146.22 L1876.14,146.17 L1878.47,146.13 L1880.79,146.08 L1883.12,146.03 L1885.44,145.98 L1887.77,145.93 L1890.09,145.87 L1892.42,145.82 L1894.74,145.77 L1897.07,145.72 L1899.39,145.67 L1901.72,145.61 L1904.05,145.56 L1906.37,145.50 L1908.70,145.45 L1911.02,145.39 L1913.34,145.34 L1915.67,145.28 L1918.00,145.70" fill="none" stroke="#0000ff" stroke-width="2.9" stroke-linejoin="round"/>
<path d="M1098.50,714.00 L1098.80,711.72 L1099.31,709.47 L1099.83,707.23 L1100.35,704.99 L1100.87,702.75 L1101.40,700.52 L1101.92,698.28 L1102.45,696.04 L1102.98,693.80 L1103.51,691.57 L1104.04,689.33 L1104.57,687.10 L1105.11,684.86 L1105.65,682.63 L1106.19,680.39 L1106.73,678.16 L1107.27,675.93 L1107.82,673.69 L1108.36,671.46 L1108.91,669.23 L1109.46,667.00 L1110.01,664.77 L1110.56,662.54 L1111.11,660.31 L1111.67,658.08 L1112.22,655.85 L1112.78,653.62 L1113.34,651.39 L1113.90,649.16 L1114.46,646.93 L1115.02,644.70 L1115.58,642.47 L1116.14,640.25 L1116.71,638.02 L1117.27,635.79 L1117.84,633.56 L1118.40,631.33 L1118.97,629.11 L1119.54,626.88 L1120.11,624.65 L1120.68,622.43 L1121.25,620.20 L1121.82,617.97 L1122.39,615.75 L1122.96,613.52 L1123.53,611.29 L1124.11,609.07 L1124.68,606.84 L1125.25,604.61 L1125.83,602.39 L1126.40,600.16 L1126.98,597.93 L1127.55,595.71 L1128.13,593.48 L1128.70,591.25 L1129.28,589.03 L1129.85,586.80 L1130.43,584.57 L1131.00,582.34 L1131.58,580.12 L1132.15,577.89 L1132.73,575.66 L1133.30,573.43 L1133.88,571.20 L1134.46,568.98 L1135.03,566.75 L1135.61,564.52 L1136.19,562.29 L1136.77,560.06 L1137.35,557.84 L1137.93,555.61 L1138.51,553.38 L1139.10,551.16 L1139.69,548.93 L1140.27,546.71 L1140.86,544.48 L1141.46,542.26 L1142.05,540.04 L1142.65,537.81 L1143.25,535.59 L1143.85,533.37 L1144.45,531.15 L1145.06,528.93 L1145.67,526.71 L1146.28,524.50 L1146.90,522.28 L1147.52,520.06 L1148.14,517.85 L1148.77,515.64 L1149.40,513.43 L1150.04,511.22 L1150.68,509.01 L1151.32,506.80 L1151.97,504.60 L1152.62,502.39 L1153.28,500.19 L1153.94,497.99 L1154.60,495.79 L1155.28,493.59 L1155.95,491.40 L1156.63,489.20 L1157.32,487.01 L1158.01,484.82 L1158.71,482.63 L1159.41,480.45 L1160.12,478.26 L1160.83,476.08 L1161.55,473.90 L1162.27,471.72 L1163.00,469.55 L1163.74,467.37 L1164.48,465.20 L1165.23,463.03 L1165.98,460.87 L1166.75,458.70 L1167.51,456.54 L1168.29,454.38 L1169.07,452.22 L1169.85,450.07 L1170.64,447.92 L1171.44,445.77 L1172.25,443.62 L1173.06,441.47 L1173.89,439.33 L1174.71,437.19 L1175.55,435.06 L1176.39,432.92 L1177.24,430.79 L1178.10,428.66 L1178.96,426.54 L1179.83,424.42 L1180.71,422.30 L1181.60,420.18 L1182.49,418.07 L1183.40,415.96 L1184.31,413.85 L1185.22,411.75 L1186.15,409.65 L1187.08,407.55 L1188.02,405.46 L1188.97,403.37 L1189.93,401.28 L1190.89,399.19 L1191.86,397.11 L1192.84,395.03 L1193.83,392.96 L1194.82,390.89 L1195.82,388.82 L1196.83,386.75 L1197.85,384.69 L1198.87,382.63 L1199.90,380.58 L1200.94,378.53 L1201.99,376.48 L1203.04,374.43 L1204.10,372.39 L1205.17,370.36 L1206.24,368.32 L1207.32,366.29 L1208.41,364.26 L1209.51,362.24 L1210.61,360.22 L1211.72,358.20 L1212.84,356.19 L1213.97,354.18 L1215.10,352.18 L1216.25,350.18 L1217.40,348.19 L1218.57,346.21 L1219.74,344.23 L1220.92,342.26 L1222.12,340.29 L1223.32,338.33 L1224.54,336.38 L1225.77,334.44 L1227.01,332.51 L1228.26,330.58 L1229.53,328.66 L1230.81,326.76 L1232.10,324.86 L1233.41,322.98 L1234.73,321.10 L1236.07,319.24 L1237.42,317.38 L1238.79,315.54 L1240.17,313.71 L1241.57,311.89 L1242.99,310.09 L1244.42,308.30 L1245.87,306.51 L1247.33,304.75 L1248.80,302.99 L1250.30,301.25 L1251.80,299.52 L1253.32,297.80 L1254.86,296.09 L1256.41,294.40 L1257.97,292.71 L1259.55,291.04 L1261.14,289.39 L1262.74,287.74 L1264.36,286.11 L1265.99,284.49 L1267.63,282.88 L1269.28,281.29 L1270.95,279.70 L1272.63,278.13 L1274.32,276.57 L1276.02,275.03 L1277.74,273.49 L1279.46,271.97 L1281.20,270.46 L1282.95,268.97 L1284.70,267.48 L1286.47,266.01 L1288.25,264.55 L1290.04,263.10 L1291.84,261.67 L1293.65,260.25 L1295.47,258.84 L1297.30,257.44 L1299.13,256.05 L1300.98,254.68 L1302.83,253.32 L1304.70,251.97 L1306.57,250.64 L1308.45,249.32 L1310.34,248.01 L1312.23,246.71 L1314.14,245.42 L1316.05,244.15 L1317.97,242.89 L1319.90,241.64 L1321.83,240.40 L1323.77,239.17 L1325.72,237.96 L1327.68,236.76 L1329.65,235.57 L1331.62,234.39 L1333.59,233.22 L1335.58,232.07 L1337.57,230.93 L1339.57,229.79 L1341.57,228.67 L1343.59,227.57 L1345.60,226.47 L1347.63,225.38 L1349.66,224.31 L1351.69,223.24 L1353.73,222.19 L1355.78,221.15 L1357.84,220.12 L1359.89,219.10 L1361.96,218.09 L1364.03,217.10 L1366.10,216.11 L1368.18,215.14 L1370.27,214.17 L1372.36,213.22 L1374.45,212.28 L1376.55,211.34 L1378.66,210.42 L1380.77,209.51 L1382.88,208.61 L1385.00,207.72 L1387.12,206.84 L1389.25,205.97 L1391.38,205.11 L1393.51,204.26 L1395.65,203.42 L1397.79,202.60 L1399.94,201.78 L1402.09,200.97 L1404.24,200.17 L1406.40,199.38 L1408.56,198.61 L1410.72,197.84 L1412.89,197.08 L1415.06,196.34 L1417.23,195.60 L1419.41,194.88 L1421.59,194.17 L1423.78,193.47 L1425.97,192.78 L1428.16,192.11 L1430.35,191.44 L1432.55,190.79 L1434.75,190.15 L1436.96,189.52 L1439.17,188.90 L1441.38,188.30 L1443.60,187.71 L1445.82,187.13 L1448.04,186.56 L1450.26,186.01 L1452.49,185.47 L1454.73,184.95 L1456.96,184.43 L1459.20,183.93 L1461.44,183.45 L1463.69,182.97 L1465.94,182.50 L1468.19,182.05 L1470.44,181.61 L1472.69,181.17 L1474.95,180.75 L1477.21,180.33 L1479.47,179.92 L1481.74,179.52 L1484.00,179.13 L1486.27,178.74 L1488.54,178.36 L1490.81,177.99 L1493.08,177.62 L1495.35,177.26 L1497.62,176.90 L1499.90,176.55 L1502.17,176.20 L1504.44,175.85 L1506.72,175.51 L1508.99,175.17 L1511.27,174.83 L1513.55,174.49 L1515.82,174.15 L1518.10,173.82 L1520.38,173.49 L1522.65,173.16 L1524.93,172.84 L1527.21,172.51 L1529.49,172.19 L1531.77,171.87 L1534.04,171.55 L1536.32,171.24 L1538.60,170.93 L1540.88,170.62 L1543.16,170.31 L1545.44,170.00 L1547.72,169.70 L1550.00,169.39 L1552.28,169.09 L1554.56,168.80 L1556.84,168.50 L1559.12,168.21 L1561.41,167.92 L1563.69,167.63 L1565.97,167.34 L1568.25,167.06 L1570.54,166.77 L1572.82,166.49 L1575.10,166.22 L1577.38,165.94 L1579.67,165.67 L1581.95,165.39 L1584.24,165.12 L1586.52,164.86 L1588.80,164.59 L1591.09,164.33 L1593.37,164.07 L1595.66,163.81 L1597.94,163.55 L1600.23,163.29 L1602.52,163.04 L1604.80,162.79 L1607.09,162.54 L1609.37,162.29 L1611.66,162.05 L1613.95,161.81 L1616.23,161.57 L1618.52,161.33 L1620.81,161.09 L1623.10,160.85 L1625.38,160.62 L1627.67,160.39 L1629.96,160.16 L1632.25,159.94 L1634.54,159.71 L1636.83,159.49 L1639.12,159.27 L1641.41,159.05 L1643.69,158.83 L1645.98,158.62 L1648.27,158.41 L1650.56,158.20 L1652.85,157.99 L1655.14,157.78 L1657.43,157.57 L1659.73,157.37 L1662.02,157.17 L1664.31,156.97 L1666.60,156.78 L1668.89,156.58 L1671.18,156.39 L1673.47,156.20 L1675.76,156.01 L1678.06,155.82 L1680.35,155.63 L1682.64,155.45 L1684.93,155.27 L1687.23,155.09 L1689.52,154.91 L1691.81,154.74 L1694.11,154.56 L1696.40,154.39 L1698.69,154.22 L1700.99,154.05 L1703.28,153.88 L1705.57,153.72 L1707.87,153.56 L1710.16,153.39 L1712.46,153.24 L1714.75,153.08 L1717.04,152.92 L1719.34,152.77 L1721.63,152.62 L1723.93,152.47 L1726.22,152.32 L1728.52,152.17 L1730.81,152.03 L1733.11,151.89 L1735.41,151.75 L1737.70,151.61 L1740.00,151.47 L1742.29,151.33 L1744.59,151.20 L1746.89,151.07 L1749.18,150.94 L1751.48,150.81 L1753.77,150.68 L1756.07,150.56 L1758.37,150.43 L1760.66,150.31 L1762.96,150.19 L1765.26,150.08 L1767.56,149.96 L1769.85,149.85 L1772.15,149.73 L1774.45,149.62 L1776.75,149.51 L1779.04,149.41 L1781.34,149.30 L1783.64,149.20 L1785.94,149.09 L1788.23,148.99 L1790.53,148.89 L1792.83,148.80 L1795.13,148.70 L1797.43,148.61 L1799.72,148.51 L1802.02,148.42 L1804.32,148.33 L1806.62,148.25 L1808.92,148.16 L1811.22,148.08 L1813.52,148.00 L1815.82,147.92 L1818.11,147.84 L1820.41,147.76 L1822.71,147.68 L1825.01,147.61 L1827.31,147.54 L1829.61,147.47 L1831.91,147.40 L1834.21,147.33 L1836.51,147.26 L1838.81,147.20 L1841.11,147.13 L1843.41,147.07 L1845.70,147.01 L1848.00,146.96 L1850.30,146.90 L1852.60,146.84 L1854.90,146.79 L1857.20,146.74 L1859.50,146.69 L1861.80,146.64 L1864.10,146.59 L1866.40,146.55 L1868.70,146.50 L1871.00,146.46 L1873.30,146.42 L1875.60,146.38 L1877.90,146.34 L1880.20,146.31 L1882.50,146.27 L1884.80,146.24 L1887.10,146.20 L1889.40,146.17 L1891.70,146.15 L1894.00,146.12 L1896.30,146.09 L1898.60,146.07 L1900.90,146.04 L1903.20,146.02 L1905.50,146.00 L1907.80,145.98 L1910.10,145.97 L1912.40,145.95 L1914.70,145.94 L1917.00,145.90" fill="none" stroke="#00ff00" stroke-width="2.9" stroke-linejoin="round"/>
<path d="M1098.50,697.00 L1099.14,694.93 L1099.87,692.86 L1100.61,690.80 L1101.36,688.74 L1102.10,686.68 L1102.86,684.62 L1103.61,682.56 L1104.37,680.50 L1105.14,678.45 L1105.91,676.39 L1106.69,674.34 L1107.46,672.29 L1108.25,670.24 L1109.03,668.19 L1109.82,666.14 L1110.62,664.10 L1111.41,662.05 L1112.21,660.01 L1113.02,657.97 L1113.83,655.93 L1114.64,653.89 L1115.45,651.85 L1116.27,649.81 L1117.09,647.77 L1117.91,645.74 L1118.74,643.70 L1119.57,641.67 L1120.40,639.64 L1121.23,637.61 L1122.07,635.58 L1122.91,633.55 L1123.75,631.52 L1124.59,629.49 L1125.43,627.46 L1126.28,625.43 L1127.13,623.41 L1127.98,621.38 L1128.83,619.36 L1129.69,617.33 L1130.55,615.31 L1131.40,613.29 L1132.26,611.26 L1133.12,609.24 L1133.98,607.22 L1134.85,605.20 L1135.71,603.18 L1136.57,601.16 L1137.44,599.14 L1138.31,597.12 L1139.17,595.10 L1140.04,593.08 L1140.91,591.07 L1141.78,589.05 L1142.65,587.03 L1143.53,585.02 L1144.40,583.00 L1145.27,580.99 L1146.15,578.97 L1147.03,576.96 L1147.91,574.94 L1148.79,572.93 L1149.67,570.92 L1150.55,568.91 L1151.44,566.90 L1152.33,564.89 L1153.22,562.89 L1154.11,560.88 L1155.00,558.87 L1155.89,556.87 L1156.79,554.87 L1157.69,552.86 L1158.59,550.86 L1159.49,548.86 L1160.40,546.86 L1161.31,544.87 L1162.22,542.87 L1163.13,540.88 L1164.05,538.88 L1164.96,536.89 L1165.88,534.90 L1166.81,532.91 L1167.73,530.92 L1168.66,528.93 L1169.59,526.95 L1170.52,524.96 L1171.46,522.98 L1172.39,521.00 L1173.33,519.01 L1174.28,517.03 L1175.22,515.06 L1176.17,513.08 L1177.12,511.10 L1178.07,509.12 L1179.02,507.15 L1179.98,505.18 L1180.94,503.20 L1181.90,501.23 L1182.87,499.26 L1183.83,497.29 L1184.80,495.32 L1185.77,493.35 L1186.74,491.39 L1187.72,489.42 L1188.70,487.46 L1189.68,485.49 L1190.66,483.53 L1191.65,481.57 L1192.63,479.60 L1193.62,477.64 L1194.62,475.68 L1195.61,473.72 L1196.61,471.76 L1197.61,469.81 L1198.61,467.85 L1199.62,465.90 L1200.62,463.94 L1201.63,461.99 L1202.65,460.04 L1203.67,458.09 L1204.69,456.14 L1205.71,454.19 L1206.74,452.25 L1207.77,450.31 L1208.80,448.36 L1209.84,446.42 L1210.88,444.49 L1211.92,442.55 L1212.97,440.62 L1214.02,438.69 L1215.07,436.76 L1216.13,434.83 L1217.19,432.90 L1218.26,430.98 L1219.33,429.06 L1220.41,427.14 L1221.48,425.23 L1222.57,423.31 L1223.66,421.40 L1224.75,419.50 L1225.84,417.59 L1226.94,415.69 L1228.05,413.79 L1229.16,411.89 L1230.27,410.00 L1231.39,408.11 L1232.52,406.22 L1233.65,404.34 L1234.78,402.46 L1235.92,400.58 L1237.07,398.71 L1238.22,396.84 L1239.37,394.97 L1240.53,393.11 L1241.70,391.25 L1242.87,389.39 L1244.04,387.54 L1245.23,385.69 L1246.41,383.85 L1247.61,382.00 L1248.81,380.17 L1250.01,378.34 L1251.22,376.51 L1252.44,374.68 L1253.66,372.86 L1254.89,371.05 L1256.13,369.24 L1257.37,367.43 L1258.62,365.63 L1259.87,363.83 L1261.13,362.04 L1262.40,360.25 L1263.67,358.46 L1264.95,356.68 L1266.24,354.91 L1267.53,353.14 L1268.83,351.38 L1270.14,349.62 L1271.46,347.86 L1272.78,346.12 L1274.11,344.37 L1275.45,342.64 L1276.79,340.91 L1278.14,339.18 L1279.50,337.46 L1280.87,335.75 L1282.24,334.04 L1283.63,332.34 L1285.02,330.65 L1286.42,328.96 L1287.83,327.28 L1289.24,325.60 L1290.66,323.94 L1292.10,322.27 L1293.54,320.62 L1294.99,318.97 L1296.45,317.33 L1297.91,315.70 L1299.39,314.08 L1300.87,312.46 L1302.36,310.85 L1303.86,309.24 L1305.37,307.64 L1306.88,306.05 L1308.40,304.46 L1309.93,302.88 L1311.46,301.31 L1313.00,299.74 L1314.55,298.18 L1316.10,296.62 L1317.66,295.07 L1319.23,293.53 L1320.80,291.99 L1322.38,290.46 L1323.96,288.93 L1325.55,287.41 L1327.14,285.89 L1328.74,284.38 L1330.34,282.88 L1331.95,281.38 L1333.57,279.89 L1335.19,278.40 L1336.81,276.92 L1338.44,275.44 L1340.08,273.98 L1341.72,272.52 L1343.37,271.06 L1345.03,269.62 L1346.69,268.18 L1348.36,266.75 L1350.03,265.32 L1351.71,263.91 L1353.40,262.50 L1355.10,261.11 L1356.80,259.72 L1358.51,258.34 L1360.22,256.97 L1361.94,255.61 L1363.67,254.26 L1365.41,252.91 L1367.15,251.58 L1368.90,250.26 L1370.66,248.95 L1372.43,247.65 L1374.21,246.36 L1375.99,245.08 L1377.78,243.81 L1379.57,242.55 L1381.38,241.30 L1383.19,240.06 L1385.00,238.83 L1386.83,237.61 L1388.66,236.41 L1390.50,235.21 L1392.34,234.03 L1394.20,232.85 L1396.06,231.69 L1397.92,230.53 L1399.79,229.39 L1401.67,228.26 L1403.56,227.14 L1405.45,226.02 L1407.35,224.92 L1409.26,223.84 L1411.17,222.76 L1413.08,221.69 L1415.01,220.63 L1416.94,219.59 L1418.87,218.55 L1420.82,217.53 L1422.76,216.52 L1424.72,215.51 L1426.68,214.52 L1428.64,213.54 L1430.61,212.57 L1432.59,211.61 L1434.57,210.66 L1436.55,209.72 L1438.54,208.80 L1440.54,207.88 L1442.54,206.98 L1444.55,206.08 L1446.56,205.20 L1448.57,204.32 L1450.60,203.46 L1452.62,202.61 L1454.65,201.77 L1456.68,200.94 L1458.72,200.12 L1460.76,199.31 L1462.81,198.51 L1464.86,197.72 L1466.91,196.94 L1468.97,196.17 L1471.04,195.42 L1473.10,194.67 L1475.17,193.94 L1477.24,193.21 L1479.32,192.49 L1481.40,191.79 L1483.48,191.09 L1485.57,190.41 L1487.66,189.73 L1489.75,189.06 L1491.84,188.40 L1493.94,187.75 L1496.04,187.12 L1498.14,186.49 L1500.25,185.86 L1502.35,185.25 L1504.46,184.65 L1506.58,184.05 L1508.69,183.47 L1510.81,182.89 L1512.92,182.32 L1515.04,181.76 L1517.17,181.21 L1519.29,180.66 L1521.42,180.13 L1523.54,179.60 L1525.67,179.08 L1527.80,178.57 L1529.94,178.06 L1532.07,177.56 L1534.21,177.08 L1536.35,176.59 L1538.49,176.12 L1540.63,175.65 L1542.77,175.19 L1544.92,174.74 L1547.07,174.29 L1549.21,173.86 L1551.36,173.43 L1553.52,173.00 L1555.67,172.58 L1557.82,172.17 L1559.98,171.77 L1562.14,171.37 L1564.29,170.98 L1566.45,170.60 L1568.62,170.22 L1570.78,169.85 L1572.94,169.48 L1575.11,169.12 L1577.27,168.77 L1579.44,168.42 L1581.61,168.08 L1583.78,167.74 L1585.95,167.41 L1588.12,167.09 L1590.30,166.77 L1592.47,166.45 L1594.64,166.14 L1596.82,165.84 L1599.00,165.54 L1601.18,165.25 L1603.35,164.96 L1605.53,164.68 L1607.72,164.40 L1609.90,164.13 L1612.08,163.86 L1614.26,163.60 L1616.45,163.34 L1618.63,163.08 L1620.81,162.83 L1623.00,162.59 L1625.19,162.34 L1627.37,162.11 L1629.56,161.87 L1631.75,161.64 L1633.94,161.42 L1636.13,161.20 L1638.32,160.98 L1640.51,160.76 L1642.70,160.55 L1644.89,160.35 L1647.08,160.14 L1649.27,159.94 L1651.46,159.74 L1653.66,159.55 L1655.85,159.36 L1658.04,159.17 L1660.23,158.99 L1662.43,158.80 L1664.62,158.63 L1666.81,158.45 L1669.01,158.28 L1671.20,158.10 L1673.39,157.94 L1675.59,157.77 L1677.78,157.60 L1679.97,157.44 L1682.17,157.28 L1684.36,157.13 L1686.55,156.97 L1688.75,156.82 L1690.94,156.66 L1693.13,156.52 L1695.33,156.37 L1697.52,156.22 L1699.71,156.08 L1701.91,155.94 L1704.10,155.80 L1706.29,155.66 L1708.48,155.52 L1710.68,155.39 L1712.87,155.26 L1715.06,155.13 L1717.25,155.00 L1719.45,154.87 L1721.64,154.74 L1723.83,154.62 L1726.02,154.50 L1728.22,154.38 L1730.41,154.26 L1732.60,154.14 L1734.79,154.03 L1736.99,153.91 L1739.18,153.80 L1741.37,153.69 L1743.56,153.58 L1745.76,153.47 L1747.95,153.37 L1750.14,153.26 L1752.33,153.16 L1754.53,153.06 L1756.72,152.95 L1758.91,152.86 L1761.10,152.76 L1763.30,152.66 L1765.49,152.57 L1767.68,152.47 L1769.87,152.38 L1772.07,152.29 L1774.26,152.20 L1776.45,152.11 L1778.64,152.02 L1780.84,151.93 L1783.03,151.85 L1785.22,151.76 L1787.42,151.68 L1789.61,151.60 L1791.80,151.52 L1794.00,151.44 L1796.19,151.36 L1798.38,151.28 L1800.58,151.20 L1802.77,151.13 L1804.96,151.05 L1807.16,150.98 L1809.35,150.90 L1811.54,150.83 L1813.74,150.76 L1815.93,150.69 L1818.13,150.62 L1820.32,150.55 L1822.52,150.48 L1824.71,150.41 L1826.90,150.35 L1829.10,150.28 L1831.29,150.22 L1833.49,150.15 L1835.68,150.09 L1837.88,150.02 L1840.08,149.96 L1842.27,149.90 L1844.47,149.84 L1846.66,149.77 L1848.86,149.71 L1851.05,149.65 L1853.25,149.59 L1855.45,149.53 L1857.64,149.47 L1859.84,149.42 L1862.04,149.36 L1864.24,149.30 L1866.43,149.24 L1868.63,149.19 L1870.83,149.13 L1873.03,149.07 L1875.22,149.02 L1877.42,148.96 L1879.62,148.90 L1881.82,148.85 L1884.02,148.79 L1886.22,148.74 L1888.42,148.68 L1890.61,148.63 L1892.81,148.57 L1895.01,148.52 L1897.21,148.46 L1899.41,148.41 L1901.62,148.36 L1903.82,148.30 L1906.02,148.25 L1908.22,148.19 L1910.42,148.14 L1912.62,148.08 L1914.82,148.03 L1917.00,148.00" fill="none" stroke="#ff0000" stroke-width="2.9" stroke-linejoin="round"/>
</g>
<line x1="1098.2" y1="144.35" x2="1098.2" y2="718.8499999999999" stroke="#000" stroke-width="2.1"/>
<line x1="1918.0" y1="144.35" x2="1918.0" y2="718.8499999999999" stroke="#000" stroke-width="2.1"/>
<line x1="1098.2" y1="717.8" x2="1918.0" y2="717.8" stroke="#000" stroke-width="2.1"/>
<line x1="1265.9" y1="358.4" x2="1615.80" y2="356.77" stroke="#ff0000" stroke-width="1.8"/><polygon points="1631.80,356.70 1613.82,361.53 1613.78,352.03" fill="#ff0000"/>
<line x1="1241.4" y1="405.7" x2="1616.60" y2="402.82" stroke="#00ff00" stroke-width="1.8"/><polygon points="1632.60,402.70 1614.64,407.59 1614.56,398.09" fill="#00ff00"/>
<line x1="1220.5" y1="453.1" x2="1617.40" y2="449.54" stroke="#0000ff" stroke-width="1.8"/><polygon points="1633.40,449.40 1615.44,454.31 1615.36,444.81" fill="#0000ff"/>
<line x1="1086.5" y1="717.80" x2="1098.2" y2="717.80" stroke="#000" stroke-width="2"/>
<line x1="1086.5" y1="603.32" x2="1098.2" y2="603.32" stroke="#000" stroke-width="2"/>
<line x1="1086.5" y1="488.84" x2="1098.2" y2="488.84" stroke="#000" stroke-width="2"/>
<line x1="1086.5" y1="374.36" x2="1098.2" y2="374.36" stroke="#000" stroke-width="2"/>
<line x1="1086.5" y1="259.88" x2="1098.2" y2="259.88" stroke="#000" stroke-width="2"/>
<line x1="1086.5" y1="145.40" x2="1098.2" y2="145.40" stroke="#000" stroke-width="2"/>
<line x1="1098.20" y1="717.8" x2="1098.20" y2="728.4" stroke="#000" stroke-width="2"/>
<line x1="1262.16" y1="717.8" x2="1262.16" y2="728.4" stroke="#000" stroke-width="2"/>
<line x1="1426.12" y1="717.8" x2="1426.12" y2="728.4" stroke="#000" stroke-width="2"/>
<line x1="1590.08" y1="717.8" x2="1590.08" y2="728.4" stroke="#000" stroke-width="2"/>
<line x1="1754.04" y1="717.8" x2="1754.04" y2="728.4" stroke="#000" stroke-width="2"/>
<line x1="1918.00" y1="717.8" x2="1918.00" y2="728.4" stroke="#000" stroke-width="2"/>
<text x="1046.1" y="727.40" font-size="26.6">0</text>
<text x="1046.1" y="612.92" font-size="26.6">20</text>
<text x="1046.1" y="498.44" font-size="26.6">40</text>
<text x="1046.1" y="383.96" font-size="26.6">60</text>
<text x="1046.1" y="269.48" font-size="26.6">80</text>
<text x="1046.1" y="155.00" font-size="26.6">100</text>
<text x="1105" y="750.7" font-size="26.5" text-anchor="middle">0.0</text>
<text x="1223.4" y="754.4" font-size="26.8">4.0×10<tspan font-size="18.2" dy="-9.5">-6</tspan></text>
<text x="1387.8" y="754.4" font-size="26.8">8.0×10<tspan font-size="18.2" dy="-9.5">-6</tspan></text>
<text x="1551.2" y="754.4" font-size="26.8">1.2×10<tspan font-size="18.2" dy="-9.5">-5</tspan></text>
<text x="1715.8" y="754.4" font-size="26.8">1.6×10<tspan font-size="18.2" dy="-9.5">-5</tspan></text>
<text x="1878.7" y="754.4" font-size="26.8">2.0×10<tspan font-size="18.2" dy="-9.5">-5</tspan></text>
<text transform="translate(1027,438.8) rotate(-90)" font-size="26.5" text-anchor="middle">Probability(%)</text>
<text x="1653" y="370.1" font-size="28.3">Mean = 4.09×10<tspan font-size="19" dy="-12">-6</tspan></text>
<text x="1653" y="417.2" font-size="28.3">Mean = 3.53×10<tspan font-size="19" dy="-12">-6</tspan></text>
<text x="1653" y="462.8" font-size="28.3">Mean = 2.96×10<tspan font-size="19" dy="-12">-6</tspan></text>
<line x1="1196.3" y1="787" x2="1254.7" y2="787" stroke="#ff0000" stroke-width="3.1" stroke-linecap="round"/>
<text x="1262" y="795.5" font-size="26.5">Children</text>
<line x1="1376.3" y1="787" x2="1435.0" y2="787" stroke="#00ff00" stroke-width="3.1" stroke-linecap="round"/>
<text x="1442.7" y="795.5" font-size="26.5">Adult females</text>
<line x1="1640.9" y1="786" x2="1699.2" y2="786" stroke="#0000ff" stroke-width="3.1" stroke-linecap="round"/>
<text x="1707.4" y="794.8" font-size="26.5">Adult males</text>
<line x1="1135.1" y1="8.2" x2="1135.1" y2="56.8" stroke="#000" stroke-width="2.6"/><polygon points="1121.1,55.8 1149.1,55.8 1135.1,83.4" fill="#000"/>
<text x="1202.4" y="43.3" font-size="35.4">Negligible risk</text>
<line x1="1721" y1="8.6" x2="1721" y2="56.7" stroke="#000" stroke-width="2.6"/><polygon points="1707.0,55.7 1735.0,55.7 1721,83.7" fill="#000"/>
<text x="1779.4" y="41.9" font-size="35.5">Cautionary risk</text>
<text x="1565.8" y="891" font-size="61.5">b</text>
</svg></body></html>
